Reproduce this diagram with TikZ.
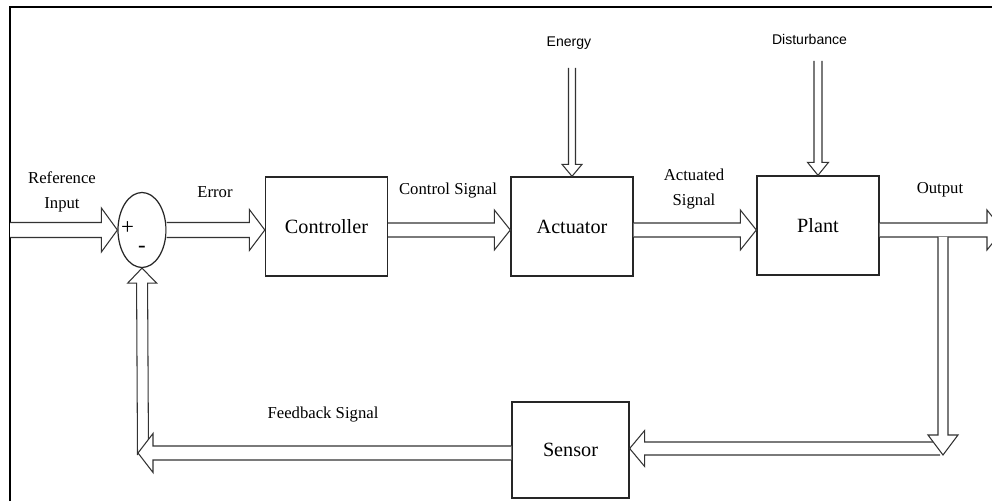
\documentclass[tikz,border=0pt]{standalone}
\usepackage{fontspec}
\setmainfont{Liberation Serif}
\newfontfamily\labelsans{Liberation Sans}
\usetikzlibrary{calc,shapes.geometric}

% hollow block arrow: from, to, shaft half width, head half width, head length
\newcommand{\hollowarrow}[5]{%
    \coordinate (ha-b) at ($#2!#5!#1$);
    \draw[hollow] ($#1!#3!90:#2$) -- ($(ha-b)!#3!90:#2$)
        -- ($(ha-b)!#4!90:#2$) -- #2 -- ($(ha-b)!#4!-90:#2$)
        -- ($(ha-b)!#3!-90:#2$) -- ($#1!#3!-90:#2$);
}

\begin{document}
\begin{tikzpicture}[
    block/.style={
        draw=black!85,
        line width=0.75pt,
        minimum width=2.44cm,
        minimum height=1.98cm,
        font=\fontsize{11.5}{13}\selectfont
    },
    hollow/.style={draw=black!80, line width=0.6pt, fill=white, line join=miter},
    lbl/.style={font=\fontsize{9.5}{14}\selectfont, align=center, inner sep=0pt},
    sanslbl/.style={font=\labelsans\fontsize{8}{10}\selectfont, inner sep=0pt}
]
    \useasboundingbox (0,0) rectangle (19.84,10.02);
    \clip (0,0) rectangle (19.84,10.02);

    % frame
    \draw[line width=1.2pt] (0.2,0) -- (0.2,9.88) -- (19.84,9.88);

    \node[ellipse, draw=black!85, line width=0.7pt, minimum width=0.96cm,
        minimum height=1.5cm, inner sep=0pt] (sum) at (2.84,5.42) {};
    \node[block] (ctrl) at (6.53,5.49) {Controller};
    \node[block] (act) at (11.44,5.49) {Actuator};
    \node[block] (plant) at (16.36,5.51) {Plant};
    \node[block, minimum width=2.34cm, minimum height=1.92cm] (sensor)
        at (11.41,1.02) {Sensor};

    \node[font=\fontsize{13}{14}\selectfont, inner sep=0pt] (plus) at (2.55,5.45) {+};
    \node[font=\fontsize{13}{14}\selectfont, inner sep=0pt] (minus) at (2.84,5.04) {-};

    \coordinate (refin) at (0.2,5.42);
    \coordinate (ctrl-in) at (ctrl.west |- sum);
    \coordinate (ctrl-out) at (ctrl.east |- sum);
    \coordinate (act-in) at (act.west |- sum);
    \coordinate (act-out) at (act.east |- sum);
    \coordinate (plant-in) at (plant.west |- sum);
    \coordinate (plant-out) at (plant.east |- sum);
    \coordinate (outend) at (20.06,5.42);
    \coordinate (energy) at (11.44,8.66);
    \coordinate (dist) at (16.36,8.80);
    \coordinate (tap) at (18.86,5.28);
    \coordinate (tapend) at (18.86,0.92);
    \coordinate (sensin) at (18.80,1.05);
    \coordinate (sens-in) at (sensor.east |- sensin);
    \coordinate (fbend) at (2.76,0.96);
    \coordinate (sens-out) at (sensor.west |- fbend);
    \coordinate (fbup) at (2.86,0.92);

    % forward path
    \hollowarrow{(refin)}{(sum.west)}{1.5mm}{4.4mm}{3.2mm}
    \hollowarrow{(sum.east)}{(ctrl-in)}{1.5mm}{4.1mm}{3.1mm}
    \hollowarrow{(ctrl-out)}{(act-in)}{1.4mm}{4.0mm}{3.2mm}
    \hollowarrow{(act-out)}{(plant-in)}{1.4mm}{4.0mm}{3.2mm}
    \hollowarrow{(plant-out)}{(outend)}{1.4mm}{4.0mm}{3.2mm}

    % inputs from above
    \hollowarrow{(energy)}{(act.north)}{0.7mm}{2.0mm}{2.4mm}
    \hollowarrow{(dist)}{(plant.north)}{0.8mm}{2.1mm}{2.6mm}

    % feedback path
    \hollowarrow{(sensin)}{(sens-in)}{1.3mm}{3.6mm}{3.0mm}
    \hollowarrow{(tap)}{(tapend)}{1.0mm}{3.0mm}{4.0mm}
    \hollowarrow{(fbup)}{(sum.south)}{1.1mm}{2.9mm}{3.0mm}
    \hollowarrow{(sens-out)}{(fbend)}{1.4mm}{3.9mm}{3.0mm}

    % labels
    \node[lbl] (l-ref) at (1.24,6.18) {Reference\\Input};
    \node[lbl] (l-err) at (4.30,6.18) {Error};
    \node[lbl] (l-ctrl) at (8.96,6.20) {Control Signal};
    \node[lbl] (l-act) at (13.88,6.24) {Actuated\\Signal};
    \node[lbl] (l-out) at (18.80,6.22) {Output};
    \node[lbl] (l-fb) at (6.46,1.72) {Feedback Signal};
    \node[sanslbl] (l-energy) at (11.38,9.16) {Energy};
    \node[sanslbl] (l-dist) at (16.19,9.23) {Disturbance};
\end{tikzpicture}
\end{document}
